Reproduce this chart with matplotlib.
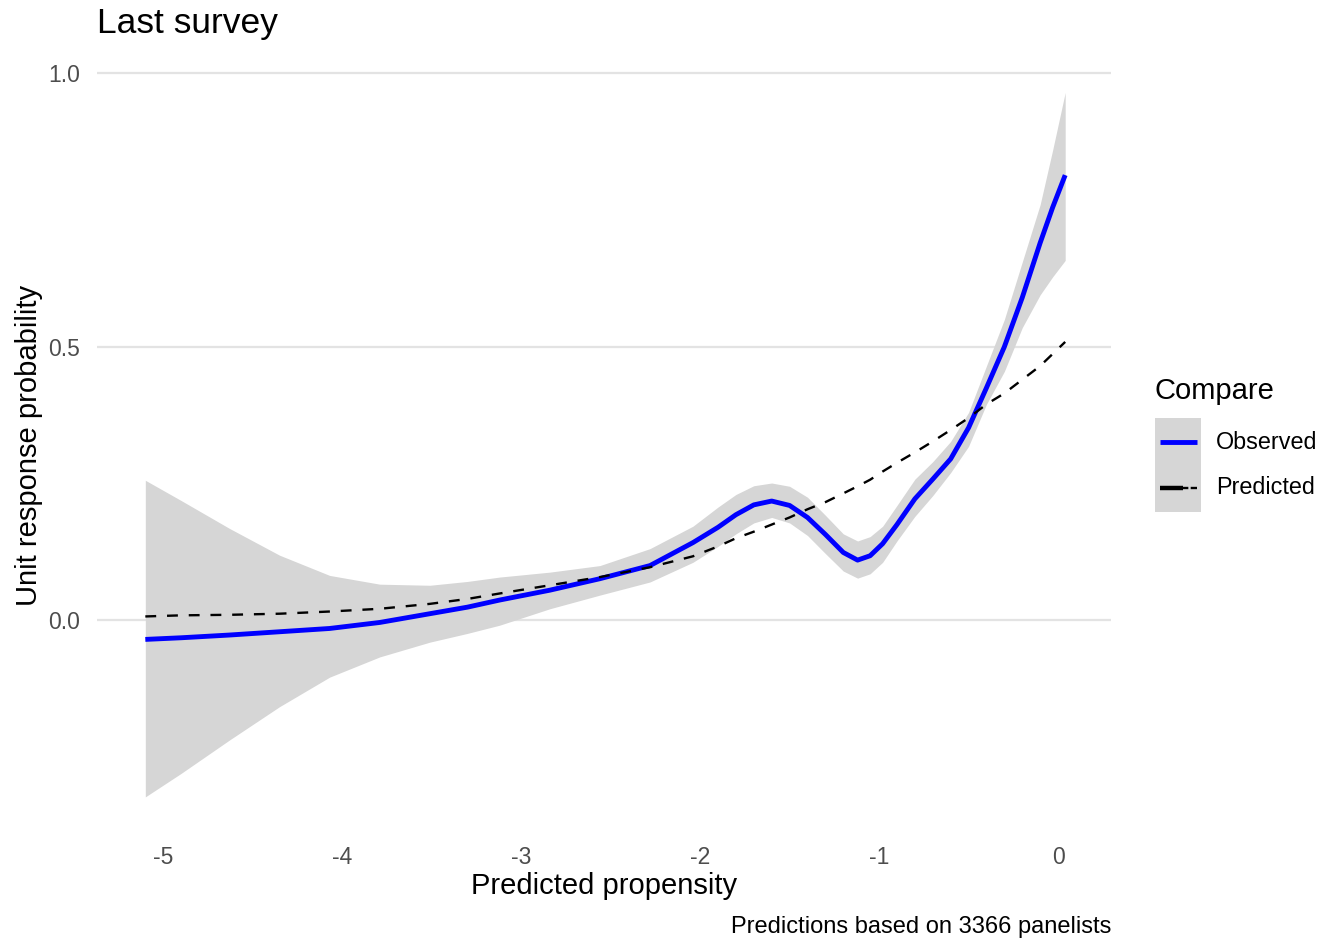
import matplotlib
matplotlib.use("Agg")
import matplotlib.pyplot as plt
from matplotlib.patches import Rectangle
from matplotlib.lines import Line2D

plt.rcParams["font.family"] = ["Liberation Sans", "DejaVu Sans"]

# smoothed curves on the propensity scale
propensity = [-5.1, -4.9, -4.63, -4.35, -4.07, -3.79, -3.51, -3.3, -3.12, -2.84,
              -2.56, -2.28, -2.04, -1.9, -1.8, -1.7, -1.6, -1.5,
              -1.4, -1.3, -1.2, -1.12, -1.05, -0.98, -0.9, -0.8, -0.7, -0.6,
              -0.5, -0.4, -0.3, -0.2, -0.1, -0.03, 0.04]
observed = [-0.035, -0.032, -0.027, -0.021, -0.015, -0.004, 0.012, 0.024, 0.037, 0.055,
            0.076, 0.100, 0.142, 0.17, 0.193, 0.211, 0.218, 0.21,
            0.188, 0.157, 0.124, 0.11, 0.118, 0.14, 0.175, 0.222, 0.258, 0.295,
            0.352, 0.425, 0.50, 0.59, 0.69, 0.755, 0.814]
obs_upper = [0.256, 0.219, 0.168, 0.119, 0.082, 0.066, 0.064, 0.071, 0.079, 0.088,
             0.100, 0.131, 0.172, 0.207, 0.23, 0.246, 0.251, 0.245,
             0.225, 0.192, 0.158, 0.145, 0.153, 0.172, 0.21, 0.258, 0.29, 0.327,
             0.38, 0.465, 0.55, 0.655, 0.76, 0.86, 0.965]
obs_lower = [-0.323, -0.280, -0.219, -0.158, -0.104, -0.067, -0.040, -0.024, -0.009, 0.021,
             0.046, 0.070, 0.106, 0.135, 0.158, 0.178, 0.188, 0.178,
             0.155, 0.122, 0.09, 0.077, 0.085, 0.106, 0.145, 0.19, 0.228, 0.27,
             0.318, 0.395, 0.455, 0.535, 0.595, 0.628, 0.658]
predicted = [0.007, 0.009, 0.010, 0.012, 0.016, 0.021, 0.030, 0.039, 0.049, 0.064,
             0.079, 0.097, 0.117, 0.135, 0.15, 0.162, 0.175, 0.188,
             0.203, 0.216, 0.232, 0.245, 0.257, 0.272, 0.288, 0.307, 0.327, 0.348,
             0.37, 0.395, 0.415, 0.44, 0.465, 0.487, 0.509]

W, H = 1322, 940
fig = plt.figure(figsize=(W / 100, H / 100), dpi=100)
ax = fig.add_axes([97 / W, 1 - 833 / H, (1111 - 97) / W, (833 - 57) / H])


def px(x, y):
    return x / W, 1 - y / H


ax.fill_between(propensity, obs_lower, obs_upper, color="#d6d6d6", lw=0, zorder=2)
ax.plot(propensity, observed, color="#0000ff", lw=3.5, zorder=3, solid_capstyle="butt")
ax.plot(propensity, predicted, color="black", lw=1.7, dashes=(4.6, 4.6), zorder=4)

ax.set_xlim(-5.37, 0.296)
ax.set_ylim(-0.389, 1.03)
ax.set_xticks([-5, -4, -3, -2, -1, 0])
ax.set_xticklabels(["-5", "-4", "-3", "-2", "-1", "0"])
ax.set_yticks([0.0, 0.5, 1.0])
ax.set_yticklabels(["0.0", "0.5", "1.0"])
ax.grid(axis="y", color="#e3e3e3", lw=1.6, zorder=0)
ax.set_axisbelow(True)
for s in ax.spines.values():
    s.set_visible(False)
ax.tick_params(length=0, labelsize=16.5, colors="#4d4d4d", pad=9)
ax.tick_params(axis="y", pad=12)

ax.set_xlabel("Predicted propensity", fontsize=21, color="black")
ax.xaxis.set_label_coords(0.5, -0.05)
ax.set_ylabel("Unit response probability", fontsize=21, color="black")
ax.yaxis.set_label_coords(-0.053, 0.5)

fig.text(*px(97, 33), "Last survey", fontsize=25.5, ha="left", va="baseline")
fig.text(*px(1111, 933), "Predictions based on 3366 panelists", fontsize=17,
         ha="right", va="baseline")

# legend
fig.text(*px(1155, 391), "Compare", fontsize=21, ha="left", va="center")
x0, y0 = px(1155, 512)
fig.add_artist(Rectangle((x0, y0), 46 / W, 94 / H, transform=fig.transFigure,
                         facecolor="#d6d6d6", edgecolor="none"))
fig.add_artist(Line2D([1160 / W, 1197 / W], [1 - 442 / H] * 2, transform=fig.transFigure,
                      color="#0000ff", lw=3.5, solid_capstyle="butt"))
fig.add_artist(Line2D([1160 / W, 1197 / W], [1 - 488 / H] * 2, transform=fig.transFigure,
                      color="black", lw=1.7, dashes=(12, 1, 6, 30)))
fig.add_artist(Line2D([1160 / W, 1183 / W], [1 - 488 / H] * 2, transform=fig.transFigure,
                      color="black", lw=3.2, solid_capstyle="butt"))
fig.text(*px(1216, 442), "Observed", fontsize=16.8, ha="left", va="center")
fig.text(*px(1216, 488), "Predicted", fontsize=16.8, ha="left", va="center")

fig.savefig("out.png", dpi=100, facecolor="white")
